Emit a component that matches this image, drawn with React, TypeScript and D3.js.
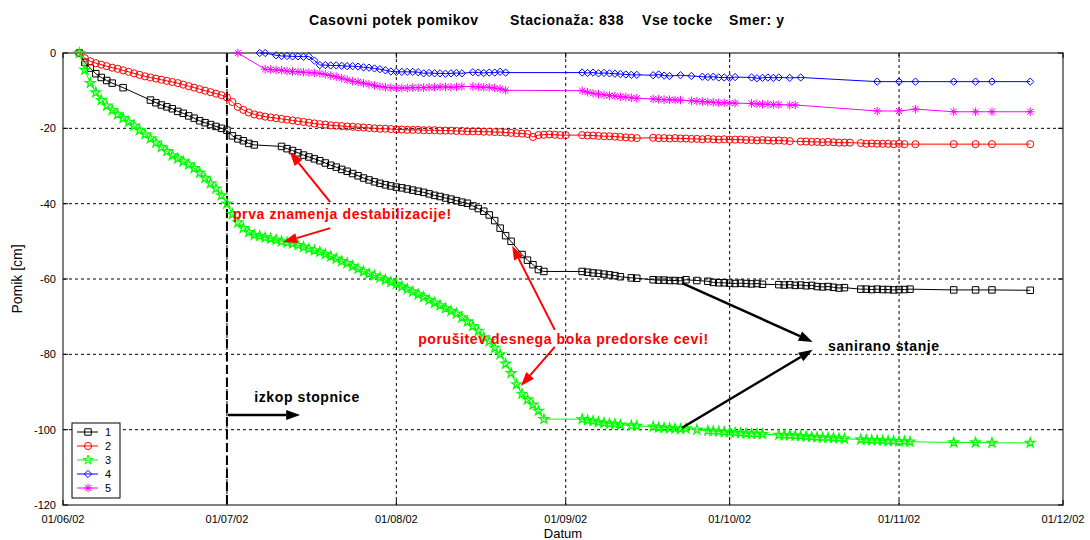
import React from 'react';
import * as d3 from 'd3';

// meritve: [dan od 01/06/02, pomik v cm]
const tocka1: [number, number][] = [
  [3, 0], [4, -2.5], [5, -4], [6, -5.5], [7, -6.5], [8, -7.3], [9, -8], [11, -9.2],
  [16, -12.5], [17, -13.2], [18, -13.8], [19, -14.3], [20, -14.8], [21, -15.5], [22, -16], [23, -16.7],
  [24, -17.3], [25, -18], [26, -18.5], [27, -19], [28, -19.5], [29, -20], [30, -20.5], [31, -22],
  [32, -22.8], [33, -23.3], [34, -24], [35, -24.4],
  [40, -24.8], [41, -25.4], [42, -25.9], [43, -26.5], [44, -27.1], [45, -27.6], [46, -28.1], [47, -28.6],
  [48, -29.2], [49, -29.8], [50, -30.3], [51, -30.9], [52, -31.4], [53, -32], [54, -32.6], [55, -33.2],
  [56, -33.7], [57, -34.2], [58, -34.6], [59, -35], [60, -35.3], [61, -35.6], [62, -35.8], [63, -36.1],
  [64, -36.4], [65, -36.7], [66, -37], [67, -37.4], [68, -37.8], [69, -38.1], [70, -38.5], [71, -38.8],
  [72, -39.2], [73, -39.6], [74, -39.9], [75, -40.6], [76, -41.3], [77, -42], [78, -43], [79, -44.5],
  [80, -46.5], [81, -48.5], [82, -50], [84, -53.5], [85, -55], [86, -56.2], [87, -57.5], [88, -58],
  [95, -58], [96, -58.2], [97, -58.4], [98, -58.5], [99, -58.7], [100, -58.9], [101, -59.1], [102, -59.4],
  [104, -59.7], [105, -59.8], [108, -60.2], [109, -60.3], [110, -60.3], [111, -60.4], [112, -60.4],
  [113, -60.5], [114, -60.2], [116, -60.4], [118, -60.6], [119, -60.9], [120, -61], [121, -61],
  [122, -61.1], [123, -61.2], [124, -61.1], [125, -61.2], [126, -61.3], [127, -61.2], [128, -61.4],
  [131, -61.5], [132, -61.6], [133, -61.5], [134, -61.7], [135, -61.6], [136, -61.8], [137, -61.7],
  [138, -62], [139, -62.1], [140, -62], [141, -62.2], [142, -62.4], [143, -62.3], [146, -62.7],
  [147, -62.7], [148, -62.8], [149, -62.7], [150, -62.8], [151, -62.8], [152, -62.9], [153, -62.8],
  [154, -62.8], [155, -62.7], [163, -62.9], [167, -62.9], [170, -62.9], [177, -63],
];

const tocka2: [number, number][] = [
  [3, 0], [4, -1.4], [5, -2.2], [6, -2.7], [7, -3.1], [8, -3.5], [9, -3.9], [10, -4.2], [11, -4.6],
  [12, -5], [13, -5.4], [14, -5.8], [15, -6.2], [16, -6.5], [17, -6.8], [18, -7.1], [19, -7.4],
  [20, -7.7], [21, -8], [22, -8.4], [23, -8.8], [24, -9.2], [25, -9.6], [26, -10], [27, -10.4],
  [28, -10.8], [29, -11.2], [30, -11.8], [31, -13], [32, -14.3], [33, -15.1], [34, -15.8], [35, -16.3],
  [36, -16.6], [37, -16.9], [38, -17.1], [39, -17.3], [40, -17.5], [41, -17.7], [42, -17.9], [43, -18.1],
  [44, -18.3], [45, -18.5], [46, -18.7], [47, -18.9], [48, -19], [49, -19.2], [50, -19.3], [51, -19.4],
  [52, -19.5], [53, -19.6], [54, -19.7], [55, -19.8], [56, -19.9], [57, -20], [58, -20.1], [59, -20.1],
  [60, -20.2], [61, -20.3], [62, -20.3], [63, -20.4], [64, -20.4], [65, -20.4], [66, -20.5], [67, -20.5],
  [68, -20.5], [69, -20.6], [70, -20.6], [71, -20.6], [72, -20.7], [73, -20.7], [74, -20.8], [75, -20.8],
  [76, -20.8], [77, -20.9], [78, -20.9], [79, -21], [80, -21], [81, -21.1], [82, -21.2], [83, -21.3],
  [84, -21.4], [85, -21.5], [86, -22.3], [87, -21.8], [88, -21.7], [89, -21.6], [90, -21.7], [91, -21.8],
  [92, -21.8], [95, -21.8], [96, -21.9], [97, -21.9], [98, -22], [99, -22.1], [100, -22.1], [101, -22.2],
  [102, -22.3], [103, -22.4], [104, -22.5], [105, -22.6], [108, -22.5], [109, -22.6], [110, -22.6],
  [111, -22.7], [112, -22.6], [113, -22.7], [114, -22.7], [115, -22.8], [116, -22.8], [117, -22.9],
  [118, -22.8], [119, -22.9], [120, -23], [121, -22.9], [122, -23], [123, -23], [124, -23], [125, -23.1],
  [126, -23.1], [127, -23.2], [128, -23.1], [129, -23.2], [130, -23.3], [131, -23.2], [132, -23.3],
  [133, -23.4], [135, -23.5], [136, -23.5], [137, -23.6], [138, -23.6], [139, -23.7], [140, -23.6],
  [141, -23.7], [142, -23.8], [143, -23.8], [144, -23.8], [146, -23.9], [147, -24.1], [148, -24],
  [149, -24.1], [150, -24.1], [151, -24.1], [152, -24.2], [153, -24.1], [154, -24.2], [156, -24.2],
  [163, -24.2], [167, -24.2], [170, -24.2], [177, -24.2],
];

const tocka3: [number, number][] = [
  [3, 0], [4, -4.5], [5, -8], [6, -10.5], [7, -12.5], [8, -14], [9, -15.2], [10, -16.3], [11, -17.3],
  [12, -18.3], [13, -19.3], [14, -20.5], [15, -21.6], [16, -22.7], [17, -23.8], [18, -25], [19, -26.1],
  [20, -27.2], [21, -28], [22, -28.8], [23, -29.6], [24, -30.6], [25, -31.8], [26, -33.2], [27, -34.6],
  [28, -36], [29, -37.8], [30, -40], [31, -42.8], [32, -45], [33, -46.5], [34, -47.6], [35, -48.3],
  [36, -48.6], [37, -49], [38, -49.3], [39, -49.6], [40, -50], [41, -50.3], [42, -50.6], [43, -51],
  [44, -51.5], [45, -52], [46, -52.4], [47, -52.8], [48, -53.4], [49, -54], [50, -54.6], [51, -55.3],
  [52, -55.8], [53, -56.6], [54, -57.3], [55, -58], [56, -58.6], [57, -59.1], [58, -59.6], [59, -60.2],
  [60, -60.8], [61, -61.3], [62, -62], [63, -62.7], [64, -63.4], [65, -64.1], [66, -64.8], [67, -65.6],
  [68, -66.3], [69, -67], [70, -67.8], [71, -68.5], [72, -69.2], [73, -70.2], [74, -71.3], [75, -72.5],
  [76, -73.8], [77, -75.5], [78, -76.5], [79, -78.3], [80, -80], [81, -82.5], [82, -85], [83, -88],
  [84, -90.5], [85, -92], [86, -93.4], [87, -95], [88, -97.2],
  [95, -97.2], [96, -97.5], [97, -97.7], [98, -98], [99, -98.2], [100, -98.4], [101, -98.5], [102, -98.7],
  [104, -98.9], [105, -99], [108, -99.2], [109, -99.4], [110, -99.5], [111, -99.6], [112, -99.7],
  [113, -99.8], [114, -99.7], [116, -100], [118, -100.3], [119, -100.4], [120, -100.5], [121, -100.6],
  [122, -100.7], [123, -100.8], [124, -100.9], [125, -101], [126, -101.1], [127, -101.1], [128, -101.2],
  [131, -101.4], [132, -101.5], [133, -101.5], [134, -101.6], [135, -101.7], [136, -101.8], [137, -101.9],
  [138, -102], [139, -102.1], [140, -102.1], [141, -102.2], [142, -102.3], [143, -102.4], [146, -102.6],
  [147, -102.7], [148, -102.8], [149, -102.8], [150, -102.9], [151, -103], [152, -103], [153, -103.1],
  [154, -103.1], [155, -103.2], [163, -103.4], [167, -103.4], [170, -103.5], [177, -103.5],
];

const tocka4: [number, number][] = [
  [36, 0], [37, 0], [39, -0.6], [40, -0.8], [41, -0.8], [42, -0.9], [43, -0.9], [44, -1], [45, -0.9],
  [46, -2], [47, -3.2], [48, -3.2], [49, -3.3], [50, -3.3], [51, -3.4], [52, -3.5], [53, -3.5],
  [54, -3.6], [55, -3.8], [56, -3.9], [57, -4.1], [58, -4.3], [59, -4.6], [60, -4.9], [61, -5],
  [62, -5], [63, -5], [64, -5], [65, -5.1], [66, -5.4], [67, -5.3], [68, -5.4], [69, -5.4], [70, -5.5],
  [71, -5.4], [72, -5.3], [73, -5.4], [75, -5.1], [76, -5.2], [77, -5.3], [78, -5.2], [79, -5.2],
  [80, -5], [81, -5.2], [95, -5.2], [96, -5.3], [97, -5.2], [98, -5.4], [99, -5.3], [100, -5.4],
  [101, -5.5], [102, -5.6], [103, -5.7], [104, -5.8], [105, -5.8], [108, -5.9], [109, -5.7], [110, -6],
  [111, -6.1], [113, -5.9], [115, -6.1], [117, -6.3], [118, -6.4], [119, -6.3], [120, -6.5], [121, -6.5],
  [122, -6.6], [123, -6.4], [126, -6.5], [127, -6.7], [128, -6.6], [129, -6.5], [130, -6.6], [131, -6.5],
  [133, -6.6], [135, -6.5], [149, -7.6], [153, -7.6], [156, -7.6], [163, -7.6], [167, -7.6], [170, -7.6],
  [177, -7.6],
];

const tocka5: [number, number][] = [
  [32, 0], [37, -4.3], [38, -4.4], [39, -4.5], [40, -4.6], [41, -4.8], [42, -4.9], [43, -5], [44, -5.1],
  [45, -5.2], [46, -5.3], [47, -5.4], [48, -5.7], [49, -6], [50, -6.3], [51, -6.7], [52, -7.1], [53, -7.5],
  [54, -7.7], [55, -8], [56, -8.3], [57, -8.6], [58, -8.9], [59, -9.1], [60, -9.2], [61, -9.3], [62, -9.3],
  [63, -9.3], [64, -9.2], [65, -9.2], [66, -9.2], [67, -9.1], [68, -9.1], [69, -9], [70, -9], [71, -9.1],
  [72, -9], [73, -8.9], [75, -8.9], [76, -9], [77, -9.1], [78, -9.1], [79, -9.3], [80, -9.5], [81, -9.9],
  [95, -10], [96, -10.4], [97, -10.7], [98, -10.9], [99, -11.1], [100, -11.3], [101, -11.4], [102, -11.6],
  [103, -11.7], [104, -11.9], [105, -12], [108, -12.2], [109, -12.3], [110, -12.4], [111, -12.4],
  [112, -12.5], [113, -12.5], [115, -12.7], [116, -12.8], [117, -12.9], [118, -13], [119, -13.1],
  [120, -13.2], [121, -13.2], [122, -13.3], [123, -13.3], [126, -13.4], [127, -13.5], [128, -13.6],
  [129, -13.6], [130, -13.7], [131, -13.7], [133, -13.8], [134, -13.8], [149, -15.4], [153, -15.4],
  [156, -14.9], [163, -15.6], [167, -15.6], [170, -15.6], [177, -15.6],
];

const yTicki = [0, -20, -40, -60, -80, -100, -120];
const izkopDan = 30; // 01/07/02

// puscice: [dan, pomik] -> [dan, pomik]
const rdecePuscice: [number, number][][] = [
  [[48.9, -39.6], [41.5, -26.3]],
  [[48.9, -46.5], [40.3, -50.2]],
  [[90, -73.5], [82.2, -51.2]],
  [[90, -78], [83.8, -88.4]],
];
const crnePuscice: [number, number][][] = [
  [[113.3, -61.1], [137.2, -76.7]],
  [[113.3, -99.5], [137.2, -78.8]],
  [[30.2, -96.1], [43.4, -96.1]],
];

const napisi = [
  { text: 'prva znamenja destabilizacije!', dan: 31.1, pomik: -44, barva: '#ff0000' },
  { text: 'porušitev desnega boka predorske cevi!', dan: 65, pomik: -77.2, barva: '#ff0000' },
  { text: 'sanirano stanje', dan: 140, pomik: -79.1, barva: '#000000' },
  { text: 'izkop stopnice', dan: 35, pomik: -92.6, barva: '#000000' },
];

const serije = [
  { ime: '1', podatki: tocka1, barva: '#000000', oznaka: 'kvadrat' },
  { ime: '2', podatki: tocka2, barva: '#ff0000', oznaka: 'krog' },
  { ime: '3', podatki: tocka3, barva: '#00ff00', oznaka: 'zvezda' },
  { ime: '4', podatki: tocka4, barva: '#0000ff', oznaka: 'romb' },
  { ime: '5', podatki: tocka5, barva: '#ff00ff', oznaka: 'zvezdica' },
];

const zacetek = new Date(2002, 5, 1);
const dan = (d: number) => new Date(zacetek.getTime() + d * 86400000);

const simbol = (tip: string) => {
  switch (tip) {
    case 'kvadrat': return d3.symbol(d3.symbolSquare, 42)();
    case 'krog': return d3.symbol(d3.symbolCircle, 40)();
    case 'zvezda': return d3.symbol(d3.symbolStar, 28)();
    case 'romb': return d3.symbol(d3.symbolDiamond2, 34)();
    default: return d3.symbol(d3.symbolPlus, 26)() + d3.symbol(d3.symbolTimes, 26)();
  }
};

const font = '"Liberation Sans", Arial, sans-serif';

export default function App() {
  const L = 63, R = 1063, T = 53, B = 505;
  const x = d3.scaleTime().domain([zacetek, new Date(2002, 11, 1)]).range([L, R]);
  const y = d3.scaleLinear().domain([-120, 0]).range([B, T]);
  const meseci = d3.timeMonth.range(zacetek, new Date(2002, 11, 2));
  const fmt = d3.timeFormat('%d/%m/%y');

  const line = d3.line<[number, number]>()
    .x(d => x(dan(d[0])))
    .y(d => y(d[1]));

  const puscica = (p: [number, number][], barva: string, sirina: number, key: string) => {
    const x1 = x(dan(p[0][0])), y1 = y(p[0][1]);
    const x2 = x(dan(p[1][0])), y2 = y(p[1][1]);
    const a = Math.atan2(y2 - y1, x2 - x1);
    const dl = 14, hw = 5;
    const bx = x2 - dl * Math.cos(a), by = y2 - dl * Math.sin(a);
    const pts = [
      [x2, y2],
      [bx + hw * Math.sin(a), by - hw * Math.cos(a)],
      [bx - hw * Math.sin(a), by + hw * Math.cos(a)],
    ].map(q => q.join(',')).join(' ');
    return (
      <g key={key}>
        <line x1={x1} y1={y1} x2={bx} y2={by} stroke={barva} strokeWidth={sirina} />
        <polygon points={pts} fill={barva} />
      </g>
    );
  };

  return (
    <svg width={1090} height={540} style={{ position: 'absolute', left: 0, top: 0, background: '#fff' }}
      fontFamily={font}>
      <rect x={0} y={0} width={1090} height={540} fill="#fff" />

      {/* naslov */}
      <g fontSize={14} fontWeight="bold" letterSpacing={0.6}>
        <text x={309} y={25}>Casovni potek pomikov</text>
        <text x={510} y={25}>Stacionaža: 838</text>
        <text x={642} y={25}>Vse tocke</text>
        <text x={729} y={25}>Smer: y</text>
      </g>

      {/* mreza */}
      {yTicki.filter(t => t !== 0 && t !== -120).map(t => (
        <line key={'gy' + t} x1={L} x2={R} y1={y(t)} y2={y(t)} stroke="#000" strokeDasharray="3,3" strokeWidth={1} />
      ))}
      {meseci.slice(1, -1).map(m => (
        <line key={'gx' + m.getTime()} x1={x(m)} x2={x(m)} y1={T} y2={B} stroke="#000" strokeDasharray="3,3" strokeWidth={1} />
      ))}
      <line x1={x(dan(izkopDan))} x2={x(dan(izkopDan))} y1={T} y2={B} stroke="#000" strokeWidth={2} strokeDasharray="9,4" />

      {/* okvir in oznake osi */}
      <rect x={L} y={T} width={R - L} height={B - T} fill="none" stroke="#555" strokeWidth={1.5} />
      {yTicki.map(t => (
        <g key={'ty' + t}>
          <line x1={L} x2={L + 5} y1={y(t)} y2={y(t)} stroke="#000" />
          <line x1={R - 5} x2={R} y1={y(t)} y2={y(t)} stroke="#000" />
          <text x={L - 7} y={y(t)} dy="0.35em" textAnchor="end" fontSize={11}>{t}</text>
        </g>
      ))}
      {meseci.map(m => (
        <g key={'tx' + m.getTime()}>
          <line x1={x(m)} x2={x(m)} y1={B - 5} y2={B} stroke="#000" />
          <line x1={x(m)} x2={x(m)} y1={T} y2={T + 5} stroke="#000" />
          <text x={x(m)} y={B + 18} textAnchor="middle" fontSize={11}>{fmt(m)}</text>
        </g>
      ))}
      <text x={563} y={538} textAnchor="middle" fontSize={13}>Datum</text>
      <text transform={`translate(22,${(T + B) / 2}) rotate(-90)`} textAnchor="middle" fontSize={14}>Pomik [cm]</text>

      {/* serije */}
      {serije.map(s => (
        <g key={'s' + s.ime}>
          <path d={line(s.podatki) || ''} fill="none" stroke={s.barva} strokeWidth={1} />
          {s.podatki.map((d, i) => (
            <path key={i} d={simbol(s.oznaka) || ''} transform={`translate(${x(dan(d[0]))},${y(d[1])})`}
              fill="none" stroke={s.barva} strokeWidth={s.oznaka === 'zvezda' ? 1.3 : 1} />
          ))}
        </g>
      ))}

      {/* puscice in napisi */}
      {rdecePuscice.map((p, i) => puscica(p, '#ff0000', 2, 'r' + i))}
      {crnePuscice.map((p, i) => puscica(p, '#000000', 2.5, 'c' + i))}
      {napisi.map(n => (
        <text key={n.text} x={x(dan(n.dan))} y={y(n.pomik)} fill={n.barva} fontSize={14}
          fontWeight="bold" letterSpacing={0.6}>{n.text}</text>
      ))}

      {/* legenda */}
      <g>
        <rect x={72} y={423} width={48} height={75} fill="#fff" stroke="#000" strokeWidth={1} />
        {serije.map((s, i) => {
          const ly = 432 + i * 14;
          return (
            <g key={'l' + s.ime}>
              <line x1={77} x2={98} y1={ly} y2={ly} stroke={s.barva} strokeWidth={1} />
              <path d={simbol(s.oznaka) || ''} transform={`translate(88,${ly})`} fill="none" stroke={s.barva} />
              <text x={105} y={ly} dy="0.35em" fontSize={11}>{s.ime}</text>
            </g>
          );
        })}
      </g>
    </svg>
  );
}
